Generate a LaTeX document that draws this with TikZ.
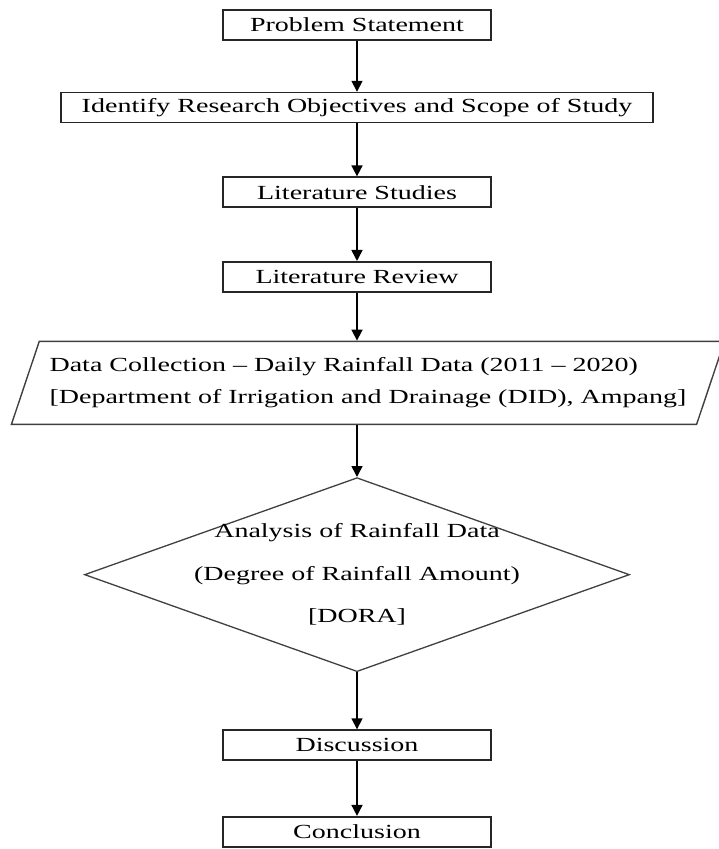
\documentclass[tikz,border=0pt]{standalone}
\usepackage{fontspec}
\setmainfont{Liberation Serif}[FakeStretch=1.4]
\usetikzlibrary{positioning,shapes.geometric,arrows.meta}
\begin{document}
\begin{tikzpicture}[x=1pt, y=1pt, node distance = 53pt]
        \tikzstyle{frame} = [rectangle, draw=black!85, line width=1.6pt, minimum width=268pt, minimum height=30pt, inner sep=2pt, font=\fontsize{20}{24}\selectfont]
        \tikzstyle{io} = [trapezium, trapezium left angle=64, trapezium right angle=116, trapezium stretches body, draw=black!75, line width=1.4pt, minimum width=713pt, minimum height=83pt, align=left, font=\fontsize{20}{32}\selectfont]
        \tikzstyle{decide} = [diamond, shape aspect=2.8, draw=black!75, line width=1.3pt, minimum width=545pt, minimum height=194pt, inner sep=-40pt, align=center, font=\fontsize{20}{42.5}\selectfont]
        \tikzstyle{line} = [draw, line width=1.6pt, -{Triangle[length=11pt,width=11pt]}]
        \useasboundingbox (0,0) rectangle (719,849);
        \node [frame] (prob) at (357,824) {Problem Statement};
        \node [frame, minimum width=592pt, below=51pt of prob] (obj) {Identify Research Objectives and Scope of Study};
        \node [frame, below=of obj] (lits) {Literature Studies};
        \node [frame, below=of lits] (litr) {Literature Review};
        \node [io, below=48pt of litr, xshift=11pt] (data) {Data Collection – Daily Rainfall Data (2011 – 2020)\\{}[Department of Irrigation and Drainage (DID), Ampang]};
        \node [decide, below=52pt of data, xshift=-11pt] (dora) {Analysis of Rainfall Data\\(Degree of Rainfall Amount)\\{}[DORA]};
        \node [frame, below=57pt of dora] (disc) {Discussion};
        \node [frame, below=55pt of disc] (conc) {Conclusion};
        \path [line] (prob) -- (obj);
        \path [line] (obj) -- (lits);
        \path [line] (lits) -- (litr);
        \path [line] (litr) -- (litr |- data.north);
        \path [line] (data.south -| dora) -- (dora);
        \path [line] (dora) -- (disc);
        \path [line] (disc) -- (conc);
    \end{tikzpicture}
\end{document}
